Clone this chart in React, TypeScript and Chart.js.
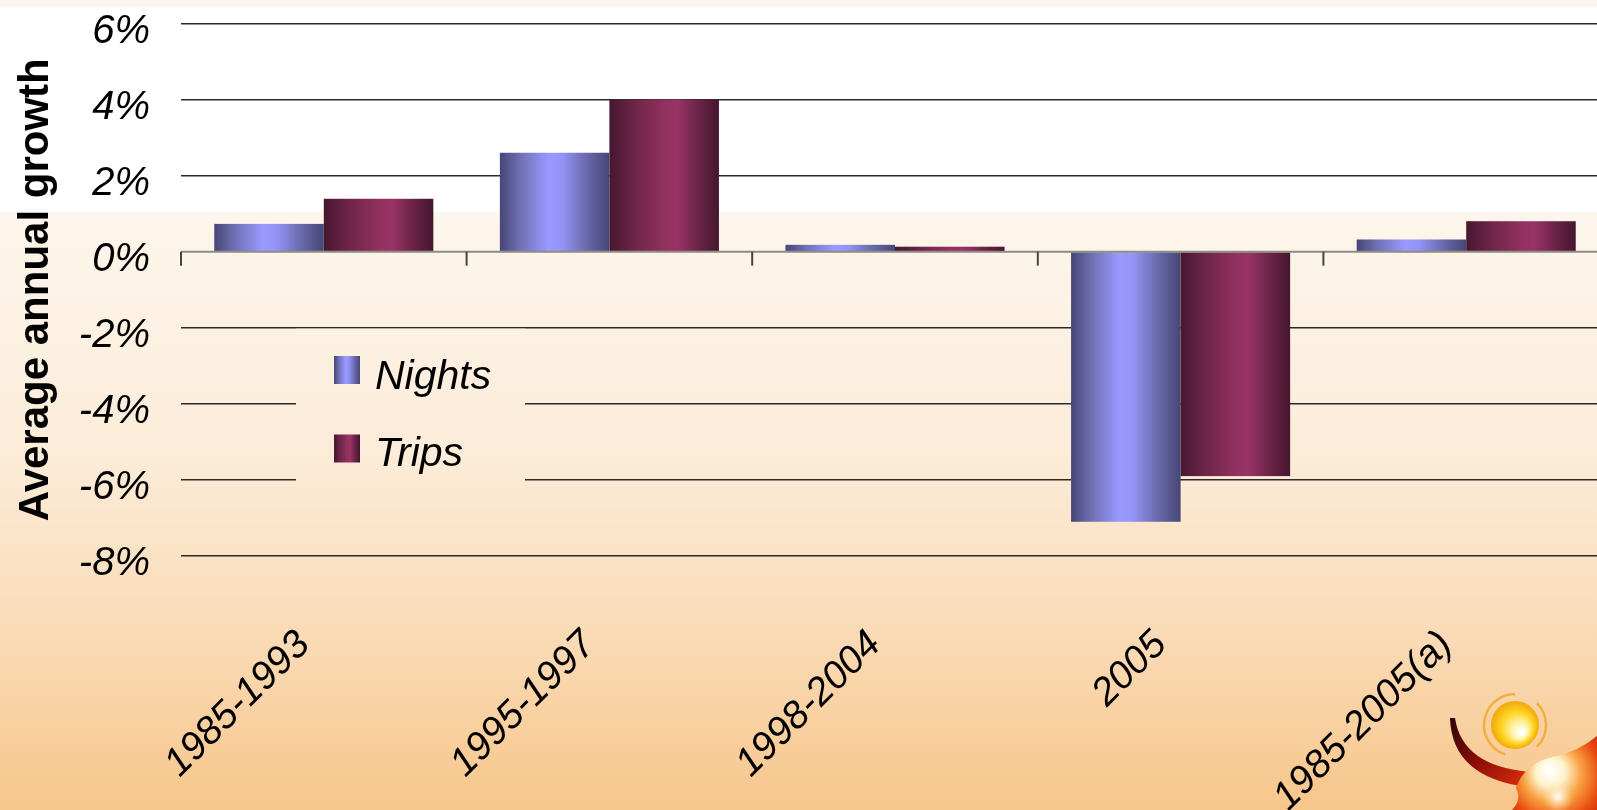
import React, { useEffect, useRef } from "react";
import { Chart, registerables } from "chart.js";

Chart.register(...registerables);

// ---- data ----
const categories = ["1985-1993", "1995-1997", "1998-2004", "2005", "1985-2005(a)"];
const nights = [0.73, 2.6, 0.18, -7.1, 0.32];
const trips = [1.39, 4.0, 0.13, -5.9, 0.8];
const seriesNames = ["Nights", "Trips"];
const yMin = -8;
const yMax = 6;
const yStep = 2;
const yTitle = "Average annual growth";

const FONT = '"Liberation Sans", Arial, Helvetica, sans-serif';
const W = 1620;
const H = 810;

// cylinder-like horizontal shading for each series
const shadeStops: [number, string][][] = [
  [
    [0, "#464675"],
    [0.2, "#7272b8"],
    [0.44, "#9999ff"],
    [0.56, "#9595f8"],
    [0.8, "#6868aa"],
    [1, "#464675"],
  ],
  [
    [0, "#46172f"],
    [0.22, "#6d2448"],
    [0.5, "#91315e"],
    [0.62, "#993366"],
    [0.82, "#6a2346"],
    [1, "#44162e"],
  ],
];

function shade(ctx: CanvasRenderingContext2D, x0: number, x1: number, s: number) {
  const g = ctx.createLinearGradient(x0, 0, x1, 0);
  for (const [o, c] of shadeStops[s]) g.addColorStop(o, c);
  return g;
}

function pageGradient(ctx: CanvasRenderingContext2D) {
  const g = ctx.createLinearGradient(0, 212, 0, H);
  g.addColorStop(0, "#fdf6ec");
  g.addColorStop(0.4, "#fcecd9");
  g.addColorStop(0.72, "#fadab4");
  g.addColorStop(1, "#f7c68b");
  return g;
}

function drawEmblem(ctx: CanvasRenderingContext2D) {
  // sun
  const sun = ctx.createRadialGradient(1522, 733, 2, 1515, 725, 24);
  sun.addColorStop(0, "#ffffff");
  sun.addColorStop(0.3, "#fff3a0");
  sun.addColorStop(0.65, "#ffd21e");
  sun.addColorStop(1, "#f0a80c");
  ctx.fillStyle = sun;
  ctx.beginPath();
  ctx.arc(1515, 725, 24, 0, Math.PI * 2);
  ctx.fill();
  ctx.strokeStyle = "rgba(238,168,40,0.8)";
  ctx.lineWidth = 2.5;
  ctx.beginPath();
  ctx.arc(1515, 725, 31, Math.PI * 0.6, Math.PI * 1.5);
  ctx.stroke();
  ctx.beginPath();
  ctx.arc(1515, 725, 31, Math.PI * 1.75, Math.PI * 2.25);
  ctx.stroke();

  // tail
  const tail = ctx.createLinearGradient(1450, 718, 1530, 785);
  tail.addColorStop(0, "#2a0305");
  tail.addColorStop(0.45, "#8a0c08");
  tail.addColorStop(1, "#e0300c");
  ctx.fillStyle = tail;
  ctx.beginPath();
  ctx.moveTo(1450, 718);
  ctx.quadraticCurveTo(1452, 778, 1528, 787);
  ctx.lineTo(1530, 772);
  ctx.quadraticCurveTo(1462, 766, 1455, 718);
  ctx.closePath();
  ctx.fill();

  // body
  const body = ctx.createRadialGradient(1549, 770, 2, 1556, 778, 66);
  body.addColorStop(0, "#ffffff");
  body.addColorStop(0.2, "#fff2cc");
  body.addColorStop(0.42, "#f8a444");
  body.addColorStop(0.7, "#e84a10");
  body.addColorStop(1, "#c01808");
  ctx.fillStyle = body;
  ctx.beginPath();
  ctx.moveTo(1516, 788);
  ctx.quadraticCurveTo(1524, 764, 1552, 757);
  ctx.quadraticCurveTo(1578, 752, 1597, 736);
  ctx.lineTo(1597, 810);
  ctx.lineTo(1512, 810);
  ctx.quadraticCurveTo(1522, 800, 1516, 788);
  ctx.closePath();
  ctx.fill();
  const glow = ctx.createRadialGradient(1558, 797, 1, 1558, 797, 16);
  glow.addColorStop(0, "rgba(255,255,255,0.9)");
  glow.addColorStop(1, "rgba(255,220,150,0)");
  ctx.fillStyle = glow;
  ctx.beginPath();
  ctx.arc(1558, 797, 16, 0, Math.PI * 2);
  ctx.fill();
}

const backgroundPlugin = {
  id: "slideBackground",
  beforeDraw(chart: any) {
    const ctx: CanvasRenderingContext2D = chart.ctx;
    ctx.save();
    ctx.fillStyle = pageGradient(ctx);
    ctx.fillRect(0, 0, W, H);
    ctx.fillStyle = "#fdf6ee";
    ctx.fillRect(0, 0, W, 7);
    ctx.fillStyle = "#ffffff";
    ctx.fillRect(0, 7, W, 205);
    drawEmblem(ctx);
    ctx.restore();
  },
};

// bars drawn with their own shading, using the positions computed by the bar controller
const shadedBarsPlugin = {
  id: "shadedBars",
  beforeDatasetDraw(chart: any, args: any) {
    const ctx: CanvasRenderingContext2D = chart.ctx;
    const meta = args.meta;
    const area = chart.chartArea;
    ctx.save();
    ctx.beginPath();
    ctx.rect(area.left, area.top, area.right - area.left, area.bottom - area.top);
    ctx.clip();
    for (const el of meta.data) {
      const { x, y, base, width } = el.getProps(["x", "y", "base", "width"], true);
      const x0 = x - width / 2;
      const x1 = x + width / 2;
      ctx.fillStyle = shade(ctx, x0, x1, args.index);
      ctx.fillRect(x0, Math.min(y, base), width, Math.abs(base - y));
    }
    ctx.restore();
    return false;
  },
};

// zero line with category boundary tick marks hanging below it
const zeroTicksPlugin = {
  id: "zeroTicks",
  afterDatasetsDraw(chart: any) {
    const ctx: CanvasRenderingContext2D = chart.ctx;
    const xs = chart.scales.x;
    const ys = chart.scales.y;
    const y0 = ys.getPixelForValue(0);
    const step = xs.getPixelForValue(1) - xs.getPixelForValue(0);
    ctx.save();
    ctx.strokeStyle = "#8e8a85";
    ctx.lineWidth = 2;
    ctx.beginPath();
    ctx.moveTo(chart.chartArea.left, y0);
    ctx.lineTo(chart.chartArea.right, y0);
    ctx.stroke();
    ctx.strokeStyle = "#444";
    ctx.lineWidth = 2;
    for (let i = 0; i <= categories.length; i++) {
      const px = xs.getPixelForValue(0) - step / 2 + i * step;
      ctx.beginPath();
      ctx.moveTo(px, y0);
      ctx.lineTo(px, y0 + 14);
      ctx.stroke();
    }
    ctx.restore();
  },
};

// legend box sitting inside the plot, covering the grid behind it
const legendPlugin = {
  id: "boxLegend",
  afterDraw(chart: any) {
    const ctx: CanvasRenderingContext2D = chart.ctx;
    ctx.save();
    ctx.fillStyle = pageGradient(ctx);
    ctx.fillRect(296, 329.5, 229, 178);
    ctx.strokeStyle = "#b4aea6";
    ctx.lineWidth = 1.2;
    ctx.beginPath();
    ctx.moveTo(296, 328.5);
    ctx.lineTo(525, 328.5);
    ctx.stroke();

    const rows = [
      { top: 356, base: 389 },
      { top: 434.5, base: 466 },
    ];
    ctx.font = `italic 41px ${FONT}`;
    ctx.textBaseline = "alphabetic";
    ctx.textAlign = "left";
    seriesNames.forEach((name, i) => {
      const r = rows[i];
      ctx.fillStyle = shade(ctx, 334, 360, i);
      ctx.fillRect(334, r.top, 26, 28);
      ctx.fillStyle = "#000";
      ctx.fillText(name, 375, r.base);
    });
    ctx.restore();
  },
};

export default function App() {
  const canvasRef = useRef<HTMLCanvasElement | null>(null);

  useEffect(() => {
    const canvas = canvasRef.current;
    if (!canvas) return;
    const chart = new Chart(canvas, {
      type: "bar",
      data: {
        labels: categories,
        datasets: [
          { label: seriesNames[0], data: nights, backgroundColor: "#9999ff" },
          { label: seriesNames[1], data: trips, backgroundColor: "#993366" },
        ],
      },
      options: {
        responsive: false,
        animation: false,
        devicePixelRatio: 1,
        layout: { padding: { top: 23.4, left: 0, right: W - 1609, bottom: 0 } },
        datasets: { bar: { categoryPercentage: 0.767, barPercentage: 1 } },
        plugins: { legend: { display: false }, tooltip: { enabled: false } },
        scales: {
          x: {
            grid: { display: false },
            border: { display: false },
            ticks: {
              autoSkip: false,
              minRotation: 45,
              maxRotation: 45,
              padding: 58,
              labelOffset: -20,
              color: "#000",
              font: { family: FONT, size: 39, style: "italic" },
            },
            afterFit: (s: any) => {
              s.height = 254;
            },
          },
          y: {
            min: yMin,
            max: yMax,
            border: { display: false },
            grid: {
              drawTicks: false,
              color: (c: any) => (c.tick && c.tick.value === 0 ? "rgba(0,0,0,0)" : "#2a2a2a"),
              lineWidth: 1.4,
            },
            ticks: {
              stepSize: yStep,
              padding: 31,
              labelOffset: 8,
              color: "#000",
              font: { family: FONT, size: 40, style: "italic" },
              callback: (v: any) => `${v}%`,
            },
            title: {
              display: true,
              text: yTitle,
              color: "#000",
              font: { family: FONT, size: 42, weight: "bold" },
              padding: { top: 11, bottom: 0 },
            },
            afterFit: (s: any) => {
              s.width = 181;
              s.paddingTop = 0;
              s.paddingBottom = 0;
            },
          },
        },
      },
      plugins: [backgroundPlugin, shadedBarsPlugin, zeroTicksPlugin, legendPlugin],
    } as any);
    return () => chart.destroy();
  }, []);

  return (
    <div
      style={{
        position: "fixed",
        left: 0,
        top: 0,
        width: 1597,
        height: 810,
        overflow: "hidden",
        background: "#fdf6ec",
      }}
    >
      <canvas ref={canvasRef} width={W} height={H} style={{ display: "block", width: W, height: H }} />
    </div>
  );
}
